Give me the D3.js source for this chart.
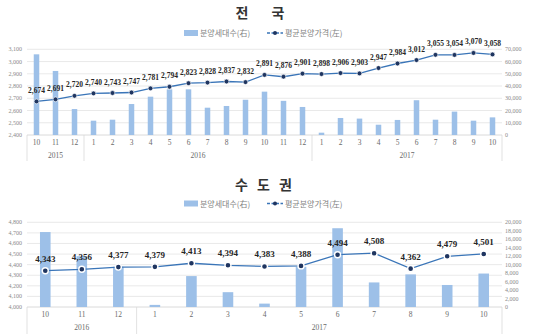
<!DOCTYPE html>
<html><head><meta charset="utf-8">
<script src="https://cdn.jsdelivr.net/npm/d3@7"></script>
<style>
html,body{margin:0;padding:0;background:#fff;}
svg{display:block;}
</style></head>
<body>
<svg id="c" width="540" height="334"></svg>
<script>
// ---- Chart 1: 전국 ----
const natMonths = ["10","11","12","1","2","3","4","5","6","7","8","9","10","11","12","1","2","3","4","5","6","7","8","9","10"];
const natYears = [{label:"2015", from:0, to:2},{label:"2016", from:3, to:14},{label:"2017", from:15, to:24}];
const natUnits = [65900,52300,21200,11700,12500,25300,31300,37300,37300,22300,23700,28800,35400,27900,22900,1900,13900,13400,8400,12300,28400,12500,19100,11700,14400];
const natPrice = [2674,2691,2720,2740,2743,2747,2781,2794,2823,2828,2837,2832,2891,2876,2901,2898,2906,2903,2947,2984,3012,3055,3054,3070,3058];
const natLeftTicks = [2400,2500,2600,2700,2800,2900,3000,3100];
const natRightTicks = [0,10000,20000,30000,40000,50000,60000,70000];

// ---- Chart 2: 수도권 ----
const capMonths = ["10","11","12","1","2","3","4","5","6","7","8","9","10"];
const capYears = [{label:"2016", from:0, to:2},{label:"2017", from:3, to:12}];
const capUnits = [17700,12000,9500,500,7300,3500,800,9500,18600,5800,7700,5200,7900];
const capPrice = [4343,4356,4377,4379,4413,4394,4383,4388,4494,4508,4362,4479,4501];
const capLeftTicks = [4000,4100,4200,4300,4400,4500,4600,4700,4800];
const capRightTicks = [0,2000,4000,6000,8000,10000,12000,14000,16000,18000,20000];

const legendBar = "분양세대수(右)";
const legendLine = "평균분양가격(左)";

const svg = d3.select("#c");
const BAR = "#9dc0e8", LINE = "#3a75b8", MARK = "#1f3560";
const serif = "'Liberation Serif','Times New Roman',serif";
const kr = "'Noto Sans CJK KR','Noto Sans',sans-serif";
const fmt = d3.format(",");

function drawChart(o){
  const g = svg.append("g");
  const x = d3.scaleBand().domain(o.months.map((d,i)=>i)).range([27,502]).padding(0);
  const yL = d3.scaleLinear().domain([o.leftTicks[0], o.leftTicks[o.leftTicks.length-1]]).range([o.bottom,o.top]);
  const yR = d3.scaleLinear().domain([o.rightTicks[0], o.rightTicks[o.rightTicks.length-1]]).range([o.bottom,o.top]);

  // title
  g.append("text").attr("x",265).attr("y",o.titleY).attr("text-anchor","middle")
    .attr("font-family",kr).attr("font-size",14).attr("font-weight","bold").attr("fill","#333")
    .attr("letter-spacing", o.titleSpacing).text(o.title);

  // legend
  const ly = o.legendY;
  g.append("rect").attr("x",184).attr("y",ly-3).attr("width",14).attr("height",6).attr("fill",BAR);
  g.append("text").attr("x",200).attr("y",ly+3).attr("font-family",kr).attr("font-size",8).attr("fill","#7f7f7f").text(legendBar);
  g.append("line").attr("x1",267).attr("x2",283).attr("y1",ly).attr("y2",ly).attr("stroke",LINE).attr("stroke-width",1.3).attr("stroke-dasharray","3,1.5");
  g.append("circle").attr("cx",275).attr("cy",ly).attr("r",2).attr("fill",MARK);
  g.append("text").attr("x",285).attr("y",ly+3).attr("font-family",kr).attr("font-size",8).attr("fill","#7f7f7f").text(legendLine);

  // gridlines (left axis)
  g.selectAll(".grid").data(o.leftTicks.slice(1)).join("line")
    .attr("x1",27).attr("x2",502).attr("y1",d=>yL(d)).attr("y2",d=>yL(d))
    .attr("stroke","#e3e3e3").attr("stroke-width",0.8);
  g.append("line").attr("x1",27).attr("x2",502).attr("y1",o.bottom).attr("y2",o.bottom).attr("stroke","#d0d0d0").attr("stroke-width",0.8);

  // left axis labels
  g.selectAll(".ll").data(o.leftTicks).join("text")
    .attr("x",22).attr("y",d=>yL(d)+2).attr("text-anchor","end")
    .attr("font-family",serif).attr("font-size",6).attr("fill","#8a8a8a").text(d=>fmt(d));
  // right axis labels
  g.selectAll(".rl").data(o.rightTicks).join("text")
    .attr("x",505).attr("y",d=>yR(d)+2).attr("text-anchor","start")
    .attr("font-family",serif).attr("font-size",6).attr("fill","#8a8a8a").text(d=>fmt(d));

  // bars
  const bw = x.bandwidth()*0.29;
  g.selectAll(".bar").data(o.units).join("rect")
    .attr("x",(d,i)=>x(i)+x.bandwidth()/2-bw/2).attr("width",bw)
    .attr("y",d=>yR(d)).attr("height",d=>o.bottom-yR(d)).attr("fill",BAR);

  // line
  const line = d3.line().x((d,i)=>x(i)+x.bandwidth()/2).y(d=>yL(d));
  g.append("path").datum(o.price).attr("d",line).attr("fill","none").attr("stroke",LINE).attr("stroke-width",1.3);
  g.selectAll(".pt").data(o.price).join("circle")
    .attr("cx",(d,i)=>x(i)+x.bandwidth()/2).attr("cy",d=>yL(d)).attr("r",o.markR)
    .attr("fill",MARK).attr("stroke","#fff").attr("stroke-width",o.markStroke);
  g.selectAll(".dl").data(o.price).join("text")
    .attr("x",(d,i)=>x(i)+x.bandwidth()/2).attr("y",d=>yL(d)-o.labelOff).attr("text-anchor","middle")
    .attr("font-family",serif).attr("font-size",o.labelSize).attr("font-weight","bold").attr("fill","#262626")
    .text(d=>fmt(d));

  // category labels
  g.selectAll(".cl").data(o.months).join("text")
    .attr("x",(d,i)=>x(i)+x.bandwidth()/2).attr("y",o.bottom+10).attr("text-anchor","middle")
    .attr("font-family",serif).attr("font-size",7.5).attr("fill","#6a6a6a").text(d=>d);
  // year labels and separators
  o.years.forEach(yr=>{
    const x0 = x(yr.from), x1 = x(yr.to)+x.bandwidth();
    g.append("text").attr("x",(x0+x1)/2).attr("y",o.bottom+23).attr("text-anchor","middle")
      .attr("font-family",serif).attr("font-size",7.5).attr("fill","#6a6a6a").text(yr.label);
  });
  const seps = [x(0)].concat(o.years.map(yr=>x(yr.to)+x.bandwidth()));
  g.selectAll(".sep").data(seps).join("line")
    .attr("x1",d=>d).attr("x2",d=>d).attr("y1",o.bottom).attr("y2",o.bottom+o.sepLen)
    .attr("stroke","#d9d9d9").attr("stroke-width",0.8);
}

drawChart({title:"전 국", titleSpacing:10, titleY:18, legendY:33, top:49.3, bottom:135,
  months:natMonths, years:natYears, units:natUnits, price:natPrice,
  leftTicks:natLeftTicks, rightTicks:natRightTicks, markR:2.4, markStroke:0.6, labelOff:8.5, labelSize:7.5, sepLen:26});
drawChart({title:"수 도 권", titleSpacing:3, titleY:190, legendY:203.5, top:222.3, bottom:307,
  months:capMonths, years:capYears, units:capUnits, price:capPrice,
  leftTicks:capLeftTicks, rightTicks:capRightTicks, markR:3, markStroke:1.4, labelOff:9, labelSize:9, sepLen:27});
</script>
</body></html>
